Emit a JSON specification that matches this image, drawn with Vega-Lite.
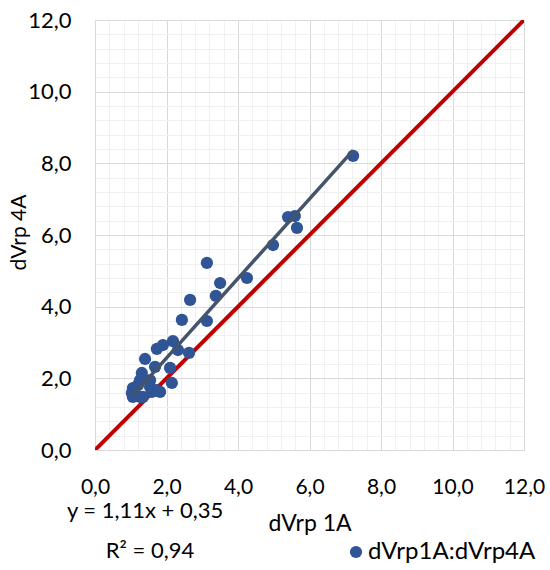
{
  "$schema": "https://vega.github.io/schema/vega-lite/v6.json",
  "width": 429,
  "height": 430,
  "autosize": {"type": "none"},
  "padding": {"left": 95, "top": 20, "right": 26, "bottom": 120},
  "background": "white",
  "config": {
    "view": {"stroke": null},
    "font": "Lato",
    "text": {"font": "Lato"}
  },
  "datasets": {
    "points": [
      {"x": 7.22, "y": 8.21, "series": "dVrp1A:dVrp4A"},
      {"x": 5.40, "y": 6.50, "series": "dVrp1A:dVrp4A"},
      {"x": 5.59, "y": 6.53, "series": "dVrp1A:dVrp4A"},
      {"x": 5.65, "y": 6.20, "series": "dVrp1A:dVrp4A"},
      {"x": 4.98, "y": 5.72, "series": "dVrp1A:dVrp4A"},
      {"x": 3.13, "y": 5.22, "series": "dVrp1A:dVrp4A"},
      {"x": 3.50, "y": 4.66, "series": "dVrp1A:dVrp4A"},
      {"x": 4.25, "y": 4.80, "series": "dVrp1A:dVrp4A"},
      {"x": 3.38, "y": 4.30, "series": "dVrp1A:dVrp4A"},
      {"x": 2.66, "y": 4.19, "series": "dVrp1A:dVrp4A"},
      {"x": 2.43, "y": 3.63, "series": "dVrp1A:dVrp4A"},
      {"x": 3.13, "y": 3.60, "series": "dVrp1A:dVrp4A"},
      {"x": 2.18, "y": 3.04, "series": "dVrp1A:dVrp4A"},
      {"x": 1.90, "y": 2.93, "series": "dVrp1A:dVrp4A"},
      {"x": 1.73, "y": 2.82, "series": "dVrp1A:dVrp4A"},
      {"x": 2.32, "y": 2.79, "series": "dVrp1A:dVrp4A"},
      {"x": 2.63, "y": 2.71, "series": "dVrp1A:dVrp4A"},
      {"x": 1.40, "y": 2.54, "series": "dVrp1A:dVrp4A"},
      {"x": 2.10, "y": 2.29, "series": "dVrp1A:dVrp4A"},
      {"x": 1.68, "y": 2.32, "series": "dVrp1A:dVrp4A"},
      {"x": 1.31, "y": 2.15, "series": "dVrp1A:dVrp4A"},
      {"x": 2.15, "y": 1.87, "series": "dVrp1A:dVrp4A"},
      {"x": 1.26, "y": 1.95, "series": "dVrp1A:dVrp4A"},
      {"x": 1.54, "y": 1.95, "series": "dVrp1A:dVrp4A"},
      {"x": 1.06, "y": 1.73, "series": "dVrp1A:dVrp4A"},
      {"x": 1.03, "y": 1.59, "series": "dVrp1A:dVrp4A"},
      {"x": 1.82, "y": 1.62, "series": "dVrp1A:dVrp4A"},
      {"x": 1.59, "y": 1.62, "series": "dVrp1A:dVrp4A"},
      {"x": 1.26, "y": 1.48, "series": "dVrp1A:dVrp4A"},
      {"x": 1.06, "y": 1.48, "series": "dVrp1A:dVrp4A"},
      {"x": 1.34, "y": 1.48, "series": "dVrp1A:dVrp4A"},
      {"x": 1.54, "y": 1.76, "series": "dVrp1A:dVrp4A"},
      {"x": 1.73, "y": 1.67, "series": "dVrp1A:dVrp4A"},
      {"x": 1.20, "y": 1.81, "series": "dVrp1A:dVrp4A"}
    ],
    "diag": [{"x": 0, "y": 0}, {"x": 12, "y": 12}],
    "trend": [{"x": 1.03, "y": 1.49}, {"x": 7.22, "y": 8.36}],
    "eq": [{"label": "y = 1,11x + 0,35"}],
    "r2": [{"label": "R² = 0,94"}]
  },
  "resolve": {"axis": {"x": "independent", "y": "independent"}},
  "layer": [
    {
      "data": {"name": "diag"},
      "mark": {"type": "line", "color": "#C00000", "strokeWidth": 4, "clip": true},
      "encoding": {
        "x": {
          "field": "x", "type": "quantitative",
          "scale": {"domain": [0, 12], "nice": false, "zero": false},
          "axis": {
            "orient": "top", "values": [0.4, 0.8, 1.2, 1.6, 2.4, 2.8, 3.2, 3.6, 4.4, 4.8, 5.2, 5.6, 6.4, 6.8, 7.2, 7.6, 8.4, 8.8, 9.2, 9.6, 10.4, 10.8, 11.2, 11.6],
            "grid": true, "gridColor": "#F0F0F0", "gridWidth": 1,
            "labels": false, "ticks": false, "domain": false, "title": null
          }
        },
        "y": {
          "field": "y", "type": "quantitative",
          "scale": {"domain": [0, 12], "nice": false, "zero": false},
          "axis": {
            "orient": "right", "values": [0.4, 0.8, 1.2, 1.6, 2.4, 2.8, 3.2, 3.6, 4.4, 4.8, 5.2, 5.6, 6.4, 6.8, 7.2, 7.6, 8.4, 8.8, 9.2, 9.6, 10.4, 10.8, 11.2, 11.6],
            "grid": true, "gridColor": "#F0F0F0", "gridWidth": 1,
            "labels": false, "ticks": false, "domain": false, "title": null
          }
        }
      }
    },
    {
      "data": {"name": "points"},
      "mark": {"type": "circle", "size": 150, "opacity": 1},
      "encoding": {
        "x": {
          "field": "x", "type": "quantitative",
          "scale": {"domain": [0, 12], "nice": false, "zero": false},
          "axis": {
            "orient": "bottom", "values": [0, 2, 4, 6, 8, 10, 12],
            "labelExpr": "replace(format(datum.value, '.1f'), '.', ',')",
            "grid": true, "gridColor": "#D9D9D9", "gridWidth": 1,
            "domain": true, "domainColor": "#D9D9D9", "domainWidth": 1,
            "ticks": false, "tickSize": 0,
            "labelFont": "Lato", "labelFontSize": 21, "labelColor": "#000000",
            "labelPadding": 26, "labelFlush": false, "labelOverlap": false,
            "title": "dVrp 1A", "titleFont": "Lato", "titleFontSize": 23,
            "titleFontWeight": "normal", "titleColor": "#000000",
            "titleY": 80, "titleBaseline": "alphabetic"
          }
        },
        "y": {
          "field": "y", "type": "quantitative",
          "scale": {"domain": [0, 12], "nice": false, "zero": false},
          "axis": {
            "orient": "left", "values": [0, 2, 4, 6, 8, 10, 12],
            "labelExpr": "replace(format(datum.value, '.1f'), '.', ',')",
            "grid": true, "gridColor": "#D9D9D9", "gridWidth": 1,
            "domain": true, "domainColor": "#D9D9D9", "domainWidth": 1,
            "ticks": false, "tickSize": 0,
            "labelFont": "Lato", "labelFontSize": 22, "labelColor": "#000000",
            "labelPadding": 24, "labelAlign": "right", "labelFlush": false, "labelOverlap": false,
            "title": "dVrp 4A", "titleFont": "Lato", "titleFontSize": 21,
            "titleFontWeight": "normal", "titleColor": "#000000",
            "titleX": -76, "titleY": 212, "titleAngle": -90,
            "titleAlign": "center", "titleBaseline": "middle"
          }
        },
        "color": {
          "field": "series", "type": "nominal",
          "scale": {"range": ["#2F5597"]},
          "legend": {
            "orient": "none", "legendX": 249, "legendY": 520,
            "title": null, "padding": 0,
            "symbolType": "circle", "symbolSize": 150, "symbolOpacity": 1,
            "symbolStrokeWidth": 0,
            "labelFont": "Lato", "labelFontSize": 24, "labelColor": "#000000",
            "labelOffset": 0, "labelLimit": 300
          }
        }
      }
    },
    {
      "data": {"name": "trend"},
      "mark": {"type": "line", "color": "#44546A", "strokeWidth": 3.5},
      "encoding": {
        "x": {"field": "x", "type": "quantitative", "scale": {"domain": [0, 12], "nice": false, "zero": false}, "axis": null},
        "y": {"field": "y", "type": "quantitative", "scale": {"domain": [0, 12], "nice": false, "zero": false}, "axis": null}
      }
    },
    {
      "data": {"name": "eq"},
      "mark": {"type": "text", "fontSize": 22, "font": "Lato", "color": "#000000", "align": "center", "baseline": "alphabetic"},
      "encoding": {
        "x": {"datum": 1.40, "type": "quantitative", "axis": null},
        "y": {"datum": -1.9, "type": "quantitative", "axis": null},
        "text": {"field": "label"}
      }
    },
    {
      "data": {"name": "r2"},
      "mark": {"type": "text", "fontSize": 22, "font": "Lato", "color": "#000000", "align": "center", "baseline": "alphabetic"},
      "encoding": {
        "x": {"datum": 1.54, "type": "quantitative", "axis": null},
        "y": {"datum": -3.01, "type": "quantitative", "axis": null},
        "text": {"field": "label"}
      }
    }
  ]
}
